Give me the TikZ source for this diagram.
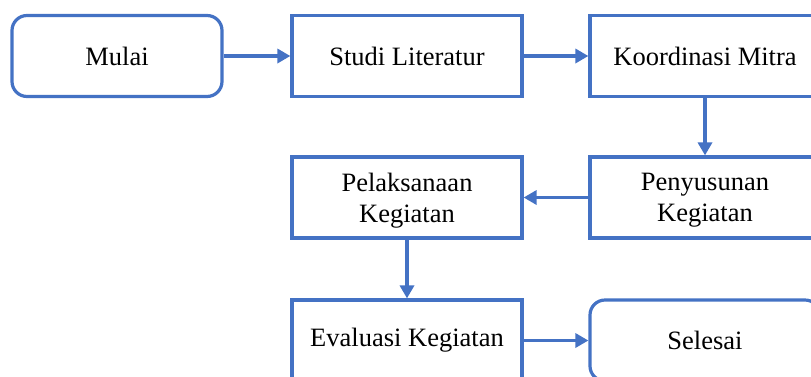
\documentclass[tikz,border=0pt]{standalone}
\usepackage{fontspec}
\setmainfont{Liberation Serif}
\usetikzlibrary{arrows.meta}
\definecolor{boxblue}{HTML}{4472C4}
\newcommand{\lowertext}[1]{\raisebox{0pt}[\dimexpr\height+6pt\relax][\depth]{\parbox{220pt}{\centering #1}}}
\begin{document}
\begin{tikzpicture}[x=1pt,y=-1pt,
  box/.style={draw=boxblue, line width=3.2pt, fill=white, minimum width=230pt, minimum height=81pt,
    inner sep=0pt, align=center, font=\fontsize{26.5}{31}\selectfont},
  roundbox/.style={box, rounded corners=15pt},
  conn/.style={draw=boxblue, line width=3.6pt, -{Triangle[length=13pt,width=14pt]}}]
\useasboundingbox (0,0) rectangle (811,376);
\clip (0,0) rectangle (811,376);
\node[roundbox, minimum width=210pt] (mulai) at (117,56) {Mulai};
\node[box] (studi) at (407,56) {Studi Literatur};
\node[box] (koord) at (705,56) {Koordinasi Mitra};
\node[box] (penyu) at (705,197.5) {\lowertext{Penyusunan\\Kegiatan}};
\node[box] (pelak) at (407,197.5) {\lowertext{Pelaksanaan\\Kegiatan}};
\node[box] (eval) at (407,340.5) {Evaluasi Kegiatan};
\node[roundbox] (selesai) at (705,340.5) {Selesai};
\draw[conn] (mulai) -- (studi);
\draw[conn] (studi) -- (koord);
\draw[conn] (koord) -- (penyu);
\draw[conn] (penyu) -- (pelak);
\draw[conn] (pelak) -- (eval);
\draw[conn] (eval) -- (selesai);
\end{tikzpicture}
\end{document}
